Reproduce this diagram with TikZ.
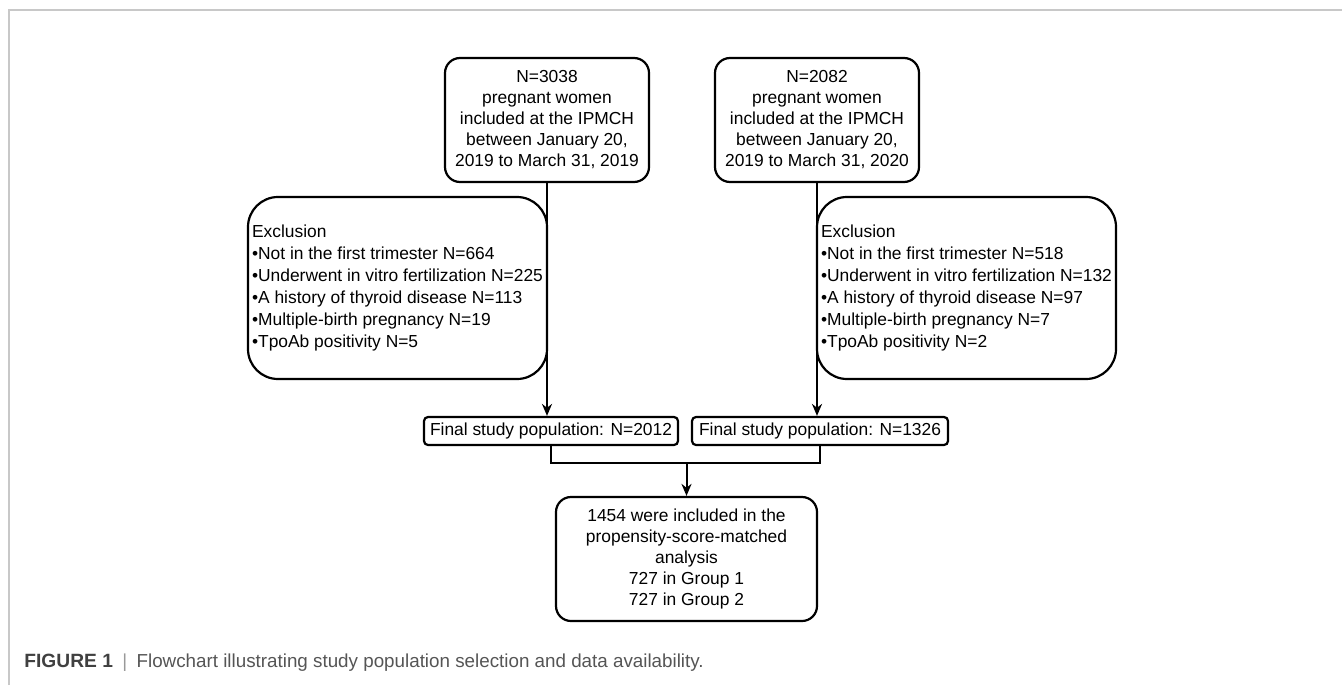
\documentclass[tikz,border=0pt]{standalone}
\usepackage{fontspec}
\setmainfont{Liberation Sans}
\usepackage{xcolor}
\definecolor{framegray}{RGB}{200, 200, 200}
\definecolor{capgray}{RGB}{85, 85, 85}
\usetikzlibrary{arrows.meta, positioning}

\begin{document}
\begin{tikzpicture}[
			x=0.5pt, y=-0.5pt,
			box/.style={draw, line width=1.1pt, align=center, inner sep=0pt,
				font=\fontsize{8.7}{10.5}\selectfont},
			startbox/.style={box, rounded corners=7.5pt, minimum width=102pt, minimum height=62pt},
			exclbox/.style={box, rounded corners=15pt, minimum width=149.5pt, minimum height=91pt,
				align=left, font=\fontsize{8.7}{11}\selectfont},
			finalbox/.style={box, rounded corners=2pt, minimum width=127pt, minimum height=14pt},
			resultbox/.style={box, rounded corners=7.5pt, minimum width=130.5pt, minimum height=62pt},
			arr/.style={line width=1pt, -{Stealth[length=6pt, width=5pt]}},
			]
			\useasboundingbox (0,0) rectangle (1342,685);
			\draw[framegray, line width=0.8pt] (9,685) -- (9,10) -- (1342,10);

			\node[startbox] (a) at (547,120) {N=3038\\pregnant women\\included at the IPMCH\\between January 20,\\2019 to March 31, 2019};
			\node[startbox] (b) at (817,120) {N=2082\\pregnant women\\included at the IPMCH\\between January 20,\\2019 to March 31, 2020};

			\node[exclbox] (exa) at (397.5,288) {Exclusion\\•Not in the first trimester N=664\\•Underwent in vitro fertilization N=225\\•A history of thyroid disease N=113\\•Multiple-birth pregnancy N=19\\•TpoAb positivity N=5};
			\node[exclbox] (exb) at (966.5,288) {Exclusion\\•Not in the first trimester N=518\\•Underwent in vitro fertilization N=132\\•A history of thyroid disease N=97\\•Multiple-birth pregnancy N=7\\•TpoAb positivity N=2};

			\node[finalbox] (fa) at (551,431) {Final study population: N=2012};
			\node[finalbox, minimum width=128pt] (fb) at (820,431) {Final study population: N=1326};

			\node[resultbox] (res) at (686.5,559) {1454 were included in the\\propensity-score-matched\\analysis\\727 in Group 1\\727 in Group 2};

			\coordinate (jn) at (686.5,463);

			\draw[arr] (a.south) -- (a.south |- fa.north);
			\draw[arr] (b.south) -- (b.south |- fb.north);
			\draw[line width=1pt] (fa.south) |- (jn) -| (fb.south);
			\draw[arr] (jn) -- (res.north);

			\node[anchor=base west, inner sep=0pt, text=capgray, font=\fontsize{9.4}{11}\selectfont] (cap) at (24,667)
				{{\fontsize{9.6}{11}\selectfont\bfseries\color{black!75}FIGURE 1}\enspace{\color{black!40}|}\enspace Flowchart illustrating study population selection and data availability.};
	\end{tikzpicture}
\end{document}
